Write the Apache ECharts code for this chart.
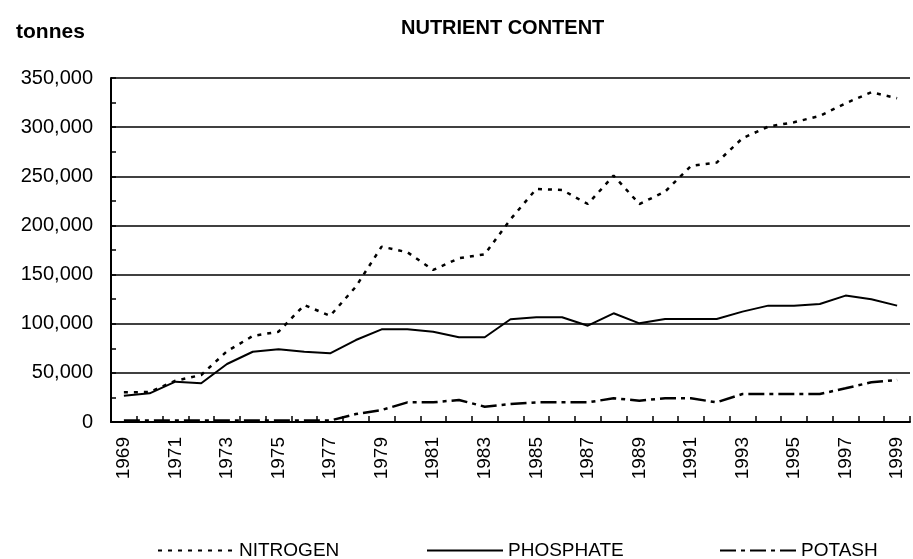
<!DOCTYPE html>
<html>
<head>
<meta charset="utf-8">
<script src="https://cdn.jsdelivr.net/npm/echarts@6/dist/echarts.min.js"></script>
<style>
  html, body { margin: 0; padding: 0; background: #fff; }
  #chart { width: 913px; height: 559px; }
</style>
</head>
<body>
<div id="chart"></div>
<script>
var years = [];
for (var y = 1969; y <= 1999; y++) years.push(String(y));

var nitrogen = [30200, 30500, 42000, 47800, 72000, 87500, 91900, 119000, 108000, 137700,
  178400, 172700, 154700, 166600, 170600, 206200, 237100, 236100, 221800, 250700,
  221800, 234400, 260500, 263900, 288700, 300500, 305000, 311400, 324300, 335500, 329400];
var phosphate = [26800, 29200, 41000, 39400, 59000, 71500, 74000, 71500, 69900, 83400,
  94300, 94300, 91900, 86200, 86200, 104500, 106500, 106500, 98000, 110600,
  100400, 104800, 104800, 104800, 112300, 118400, 118400, 120100, 128600, 124800, 118400];
var potash = [1500, 1500, 1500, 1500, 1500, 1500, 1500, 1500, 1500, 8100,
  12200, 20000, 20000, 22400, 15600, 18300, 20000, 20000, 20000, 24100,
  21700, 24100, 24100, 20000, 28500, 28500, 28500, 28500, 34300, 40400, 42700];

var font = 'Liberation Sans, Arial, sans-serif';

var chart = echarts.init(document.getElementById('chart'));

// one legend per series so each can sit where the original has it
function legendAt(name, left) {
  return {
    data: [name],
    left: left,
    top: 536,
    itemWidth: 76,
    itemHeight: 12,
    itemGap: 4,
    itemStyle: { opacity: 0 },   // hide the symbol, keep the line
    textStyle: { fontFamily: font, fontSize: 19, color: '#000' }
  };
}

var option = {
  animation: false,
  backgroundColor: '#fff',
  title: [
    {
      text: 'NUTRIENT CONTENT',
      left: 396,
      top: 13,
      textStyle: { fontFamily: font, fontSize: 20, fontWeight: 'bold', color: '#000' }
    },
    {
      text: 'tonnes',
      left: 11,
      top: 17,
      textStyle: { fontFamily: font, fontSize: 21, fontWeight: 'bold', color: '#000' }
    }
  ],
  legend: [
    legendAt('NITROGEN', 152),
    legendAt('PHOSPHATE', 421),
    legendAt('POTASH', 714)
  ],
  grid: { left: 111, right: 3, top: 78, bottom: 137, containLabel: false },
  xAxis: {
    type: 'category',
    data: years,
    boundaryGap: true,
    axisLine: { lineStyle: { color: '#000', width: 2 } },
    axisTick: { show: true, inside: true, length: 6, interval: 0, lineStyle: { color: '#000', width: 1.5 } },
    axisLabel: {
      interval: 1,
      rotate: 90,
      fontFamily: font,
      fontSize: 19,
      color: '#000',
      margin: 15
    },
    splitLine: { show: false }
  },
  yAxis: {
    type: 'value',
    min: 0,
    max: 350000,
    interval: 50000,
    axisLine: { show: true, lineStyle: { color: '#000', width: 2 } },
    axisTick: { show: true, inside: true, length: 5, lineStyle: { color: '#000', width: 1.5 } },
    minorTick: { show: true, splitNumber: 2, length: 5, lineStyle: { color: '#000', width: 1.5 } },
    axisLabel: {
      fontFamily: font,
      fontSize: 20,
      color: '#000',
      margin: 18,
      formatter: function (v) { return v.toLocaleString('en-US'); }
    },
    splitLine: { show: true, lineStyle: { color: '#000', width: 1.5 } }
  },
  series: [
    {
      name: 'NITROGEN',
      type: 'line',
      data: nitrogen,
      symbol: 'none',
      color: '#000',
      lineStyle: { color: '#000', width: 2.5, type: [4, 6] }
    },
    {
      name: 'PHOSPHATE',
      type: 'line',
      data: phosphate,
      symbol: 'none',
      color: '#000',
      lineStyle: { color: '#000', width: 2, type: 'solid' }
    },
    {
      name: 'POTASH',
      type: 'line',
      data: potash,
      symbol: 'none',
      color: '#000',
      lineStyle: { color: '#000', width: 2.5, type: [16, 5, 4, 5] }
    }
  ]
};

chart.setOption(option);
</script>
</body>
</html>
